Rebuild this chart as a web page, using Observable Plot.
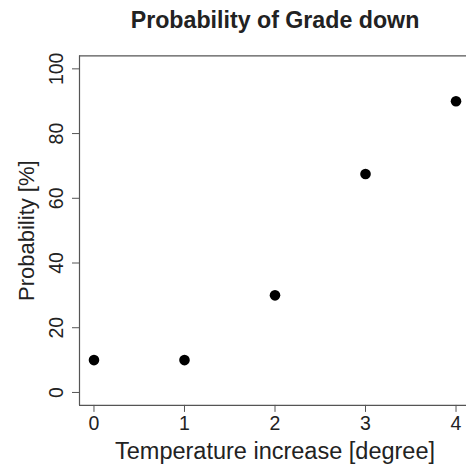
<!DOCTYPE html>
<html>
<head>
<meta charset="utf-8">
<script src="https://cdn.jsdelivr.net/npm/d3@7"></script>
<script src="https://cdn.jsdelivr.net/npm/@observablehq/plot@0.6"></script>
<style>
  html, body { margin: 0; padding: 0; background: #fff; }
  svg { display: block; }
</style>
</head>
<body>
<div id="chart"></div>
<script>
const temperature = [0, 1, 2, 3, 4];
const probability = [10, 10, 30, 67.5, 90];
const xTicks = [0, 1, 2, 3, 4];
const yTicks = [0, 20, 40, 60, 80, 100];
const titleText = "Probability of Grade down";
const xLabel = "Temperature increase [degree]";
const yLabel = "Probability [%]";

const data = temperature.map((t, i) => ({t, p: probability[i]}));

const W = 466, H = 466;
const boxLeft = 79, boxRight = 470, boxTop = 55.4, boxBottom = 404.9;
const font = "Liberation Sans, Arial, Helvetica, sans-serif";
const ink = "#222";
const lineColor = "#555";

const chart = Plot.plot({
  width: W,
  height: H,
  marginLeft: boxLeft,
  marginRight: 0,
  marginTop: boxTop,
  marginBottom: H - boxBottom,
  style: {fontFamily: font, background: "#fff", overflow: "hidden"},
  x: {domain: [-0.16, 4.16], range: [boxLeft, boxRight]},
  y: {domain: [-4, 104], range: [boxBottom, boxTop]},
  marks: [
    Plot.ruleY([-4, 104], {stroke: lineColor, strokeWidth: 1.2}),
    Plot.ruleX([-0.16], {stroke: lineColor, strokeWidth: 1.2}),
    Plot.axisX(xTicks, {anchor: "bottom", tickSize: 7, tickPadding: 4, fontSize: 19.5, stroke: lineColor, color: ink, label: null, tickFormat: d => String(d)}),
    Plot.axisY(yTicks, {anchor: "left", tickSize: 7, tickFormat: () => "", label: null, stroke: lineColor}),
    Plot.text(yTicks, {y: d => d, text: d => String(d), frameAnchor: "left", dx: -16.5, rotate: -90, lineAnchor: "bottom", textAnchor: "middle", fontSize: 19.5, fill: ink}),
    Plot.dot(data, {x: "t", y: "p", r: 5.3, fill: "#000", stroke: null}),
    Plot.text([titleText], {x: 2, frameAnchor: "top", dy: -28, lineAnchor: "bottom", fontSize: 23.2, fontWeight: "bold", fill: ink}),
    Plot.text([xLabel], {x: 2, frameAnchor: "bottom", dy: 53.5, lineAnchor: "bottom", fontSize: 23.5, fill: ink}),
    Plot.text([yLabel], {y: 50, frameAnchor: "left", dx: -45.5, rotate: -90, lineAnchor: "bottom", textAnchor: "middle", fontSize: 22, fill: ink})
  ]
});

document.getElementById("chart").appendChild(chart);
</script>
</body>
</html>
